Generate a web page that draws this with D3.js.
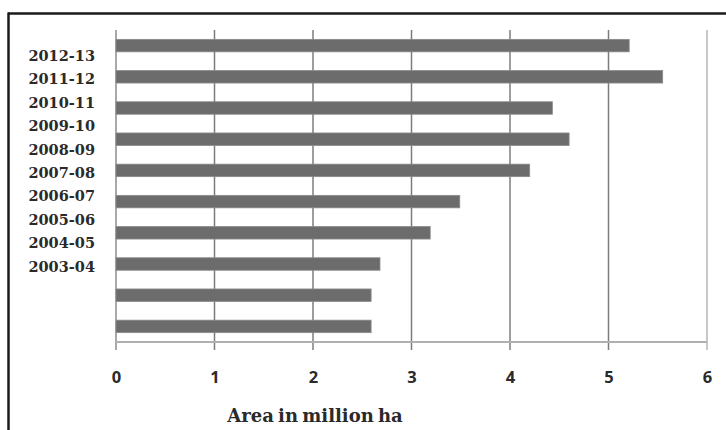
<!DOCTYPE html>
<html>
<head>
<meta charset="utf-8">
<script src="https://cdn.jsdelivr.net/npm/d3@7/dist/d3.min.js"></script>
<style>
  html, body { margin: 0; padding: 0; background: #fff; }
  svg { display: block; }
</style>
</head>
<body>
<svg id="chart" width="726" height="430"></svg>
<script>
// Seasons, listed top to bottom
const seasons = ["2012-13", "2011-12", "2010-11", "2009-10", "2008-09",
                 "2007-08", "2006-07", "2005-06", "2004-05", "2003-04"];
// Area (million ha), one bar per season in the same order
const areaValues = [5.21, 5.55, 4.43, 4.60, 4.20, 3.49, 3.19, 2.68, 2.59, 2.59];
// Horizontal axis ticks
const xTicks = [0, 1, 2, 3, 4, 5, 6];
const xTitle = "Area in million ha";

const svg = d3.select("#chart");
const W = 726, H = 430;

// Frame: heavy rule along top and left edge
svg.append("line").attr("x1", 8).attr("x2", W).attr("y1", 13.5).attr("y2", 13.5)
  .attr("stroke", "#1a1a1a").attr("stroke-width", 2.5);
svg.append("line").attr("x1", 8.5).attr("x2", 8.5).attr("y1", 12.5).attr("y2", H)
  .attr("stroke", "#1a1a1a").attr("stroke-width", 2.5);

const plot = { left: 116, right: 707, top: 30, bottom: 342 };

const x = d3.scaleLinear().domain([0, 6]).range([plot.left, plot.right]);
const y = d3.scaleBand().domain(seasons).range([plot.top, plot.bottom])
  .paddingInner(0.6).paddingOuter(0.3);
// Season labels sit on their own evenly spaced column
const yLabel = d3.scalePoint().domain(seasons).range([55, 266]);

// Vertical gridlines, running down past the axis as tick marks
svg.append("g").selectAll("line").data(xTicks).join("line")
  .attr("x1", d => x(d)).attr("x2", d => x(d))
  .attr("y1", plot.top).attr("y2", 350)
  .attr("stroke", d => d === 6 ? "#c8c8c8" : (d === 0 ? "#8c8c8c" : "#7c7c7c"))
  .attr("stroke-width", d => d === 6 ? 2 : 1.5);

// Bars
svg.append("g").selectAll("rect").data(areaValues).join("rect")
  .attr("x", x(0))
  .attr("y", (d, i) => y(seasons[i]))
  .attr("width", d => x(d) - x(0))
  .attr("height", y.bandwidth())
  .attr("fill", "#6c6c6c")
  .attr("stroke", "#8a8a8a")
  .attr("stroke-width", 0.8);

// Horizontal axis line
svg.append("line").attr("x1", x(0)).attr("x2", x(6))
  .attr("y1", plot.bottom).attr("y2", plot.bottom)
  .attr("stroke", "#b0b0b0").attr("stroke-width", 2);

// X tick labels
const xAxis = d3.axisBottom(x).tickValues(xTicks).tickSize(0).tickPadding(0)
  .tickFormat(d3.format("d"));
const gx = svg.append("g").attr("transform", `translate(0,${plot.bottom})`).call(xAxis);
gx.select(".domain").remove();
gx.selectAll("text")
  .attr("y", 41).attr("dy", 0)
  .attr("font-family", "'Open Sans', sans-serif")
  .attr("font-weight", "bold")
  .attr("font-size", 16.5)
  .attr("fill", "#2a2a2a");

// Season labels
const yAxis = d3.axisLeft(yLabel).tickSize(0).tickPadding(0);
const gy = svg.append("g").attr("transform", "translate(95,0)").call(yAxis);
gy.select(".domain").remove();
gy.selectAll("text")
  .attr("dy", "0.36em")
  .attr("font-family", "'DejaVu Serif', serif")
  .attr("font-weight", "bold")
  .attr("font-size", 14.5)
  .attr("fill", "#2a2a2a");

// Axis title
svg.append("text")
  .attr("x", 315).attr("y", 422)
  .attr("text-anchor", "middle")
  .attr("font-family", "'DejaVu Serif', serif")
  .attr("font-weight", "bold")
  .attr("font-size", 18)
  .attr("word-spacing", -2)
  .attr("fill", "#2a2a2a")
  .text(xTitle);
</script>
</body>
</html>
